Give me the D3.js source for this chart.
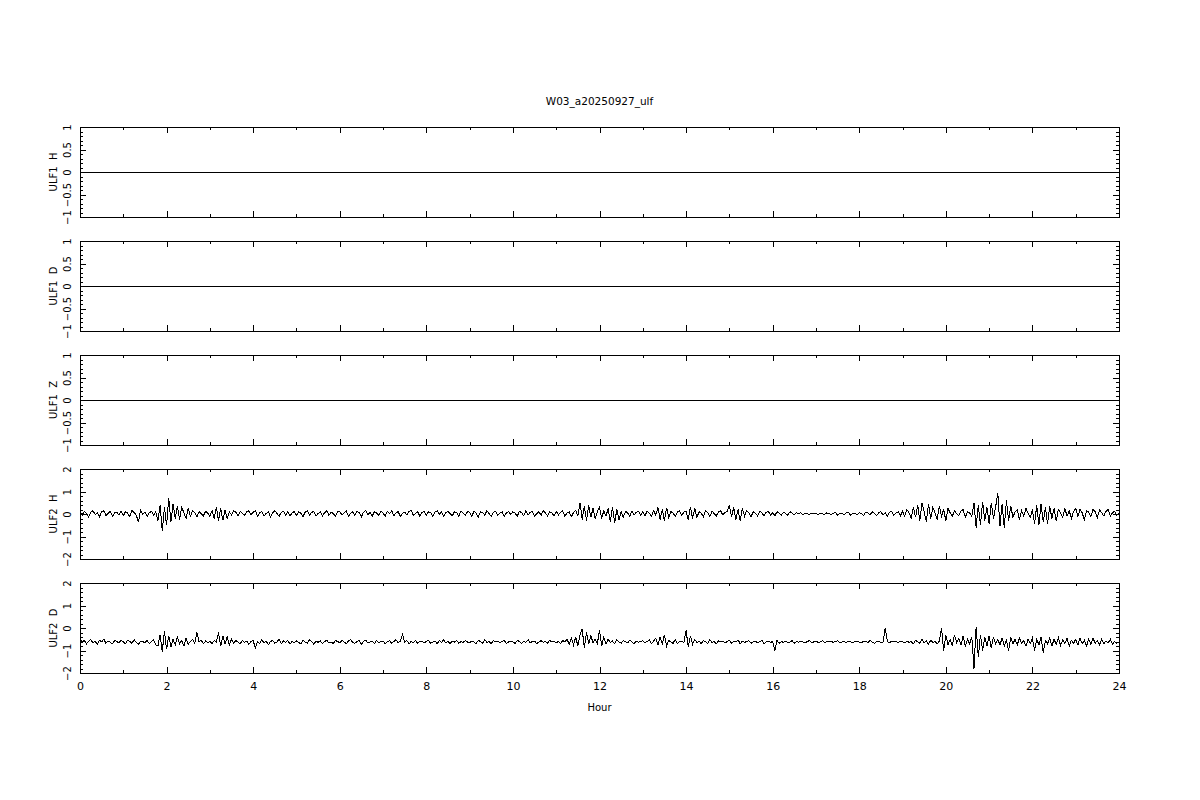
<!DOCTYPE html>
<html>
<head>
<meta charset="utf-8">
<script src="https://cdn.jsdelivr.net/npm/d3@7"></script>
<style>
  body { margin: 0; background: #fff; }
  svg { display: block; }
  text { font-family: "DejaVu Sans", sans-serif; fill: #000; }
</style>
</head>
<body>
<svg width="1200" height="800"></svg>
<script>
// ---- data ----
var title = "W03_a20250927_ulf";
var xLabel = "Hour";
var panelNames = ["ULF1 H", "ULF1 D", "ULF1 Z", "ULF2 H", "ULF2 D"];
var xTickLabels = [0, 2, 4, 6, 8, 10, 12, 14, 16, 18, 20, 22, 24];
var yTicksSmall = [-1, -0.5, 0, 0.5, 1];
var yTicksLarge = [-2, -1, 0, 1, 2];

// ULF1 channels are flat at zero all day
var ulf1Hours = [0, 24];
var ulf1H = [0, 0];
var ulf1D = [0, 0];
var ulf1Z = [0, 0];

// ULF2 channels, one sample every 3 minutes (20 per hour)
var sampleMinutes = 3;
var ulf2H = [
  0.1,-0.05,0.12,0.02,-0.14,0.08,0.15,-0.02,0.05,-0.12,0.1,0.14,-0.06,0.03,0.12,-0.1,0.05,0.08,-0.04,0.12,
  -0.08,0.1,0.04,-0.12,0.15,0.06,-0.05,-0.35,0.18,-0.02,0.08,-0.1,0.05,0.12,-0.06,0.1,-0.3,0.4,-0.75,0.3,
  -0.5,0.7,-0.35,0.45,-0.2,0.35,-0.25,0.3,0.05,-0.2,0.25,-0.1,0.15,0.05,-0.12,0.1,0.02,-0.08,0.12,0.04,
  -0.1,0.15,-0.2,0.3,-0.3,0.25,-0.28,0.18,-0.2,0.1,-0.05,0.15,0.08,-0.1,0.12,0.02,-0.06,0.1,0.14,-0.04,
  0.08,0.15,-0.1,0.05,0.12,-0.08,0.02,0.1,-0.12,0.06,0.14,0.03,-0.1,0.08,0.12,-0.05,0.1,-0.08,0.04,0.12,
  -0.06,0.1,0.04,-0.12,0.08,0.14,-0.04,0.06,0.12,-0.1,0.02,0.1,-0.08,0.05,0.15,-0.06,0.08,0.02,-0.1,0.1,
  0.12,-0.05,0.06,0.14,-0.1,0.03,0.1,-0.06,0.12,0.05,-0.12,0.08,0.15,-0.02,0.06,-0.1,0.1,0.04,-0.06,0.12,
  0.05,-0.1,0.12,0.02,0.14,-0.08,0.06,0.1,-0.12,0.04,0.08,-0.05,0.12,0.16,-0.06,0.02,0.1,-0.1,0.06,0.12,
  -0.04,0.1,0.06,-0.12,0.08,0.14,-0.02,0.1,-0.1,0.05,0.12,0.02,-0.08,0.1,0.06,-0.12,0.14,0.04,-0.06,0.1,
  0.08,-0.1,0.12,0.04,-0.14,0.1,0.06,-0.05,0.15,0.02,-0.1,0.08,0.12,-0.06,0.04,0.1,-0.12,0.06,0.1,-0.02,
  0.1,0.04,-0.1,0.12,0.06,-0.08,0.14,-0.04,0.08,0.12,-0.1,0.02,0.1,-0.06,0.16,0.04,-0.08,0.1,0.05,-0.1,
  0.12,-0.04,0.08,0.14,-0.1,0.05,0.1,-0.12,0.06,0.15,-0.08,0.5,-0.25,0.35,-0.3,0.4,-0.15,0.25,-0.2,0.1,
  0.3,-0.2,0.15,-0.1,0.25,-0.35,0.3,-0.4,0.2,-0.25,0.1,-0.15,0.12,0.05,-0.1,0.14,-0.05,0.08,0.12,-0.06,
  0.1,-0.08,0.12,0.04,-0.1,0.15,-0.05,0.3,-0.25,0.2,-0.3,0.28,-0.15,0.1,0.05,-0.12,0.1,0.14,-0.06,0.08,
  0.12,-0.25,0.3,-0.2,0.25,-0.15,0.1,0.04,-0.12,0.15,0.06,-0.1,0.12,0.02,-0.08,0.1,0.14,-0.05,0.08,0.1,
  0.4,-0.15,0.3,-0.25,0.2,-0.3,0.25,-0.1,0.15,0.05,-0.12,0.1,0.04,-0.08,0.12,0.06,-0.1,0.08,0.12,-0.04,
  0.06,-0.08,0.1,0.04,-0.05,0.08,0.02,-0.06,0.1,0.04,-0.04,0.06,0.02,0.05,-0.03,0.04,0.02,-0.02,0.03,0.01,
  0.02,-0.03,0.04,0.01,-0.02,0.05,0.02,-0.04,0.03,0.06,-0.05,0.04,0.02,-0.03,0.05,0.08,-0.06,0.04,0.02,-0.04,
  0.06,0.02,-0.06,0.08,0.04,-0.05,0.1,0.02,-0.08,0.06,0.1,-0.04,0.05,-0.1,0.08,0.12,-0.06,0.04,0.1,-0.08,
  0.12,-0.1,0.2,0.05,-0.2,0.3,-0.15,0.4,-0.3,0.5,0.1,-0.35,0.45,-0.2,0.3,0.05,-0.25,0.35,-0.1,0.2,
  -0.3,0.25,0.05,-0.1,0.15,0.02,-0.08,0.12,0.2,-0.15,0.1,0.05,-0.12,0.5,-0.6,0.4,-0.5,0.55,-0.3,0.3,
  -0.45,0.5,-0.2,0.3,0.95,-0.55,0.45,-0.6,0.6,-0.3,0.35,-0.15,0.1,0.2,-0.25,0.15,-0.1,0.25,0.05,-0.15,
  0.2,-0.45,0.4,-0.5,0.45,-0.35,0.3,-0.45,0.35,-0.2,0.25,-0.3,0.2,0.05,-0.15,0.25,-0.1,0.15,-0.2,0.1,
  0.25,-0.12,0.2,0.05,-0.25,0.15,0.08,-0.1,0.2,0.1,-0.15,0.18,0.05,-0.08,0.12,0.2,-0.1,0.06,0.12,-0.05,
  0.05
];
var ulf2D = [
  -0.48,-0.62,-0.55,-0.7,-0.58,-0.52,-0.66,-0.6,-0.72,-0.55,-0.62,-0.5,-0.68,-0.58,-0.64,-0.7,-0.56,-0.6,-0.66,-0.54,
  -0.62,-0.7,-0.55,-0.6,-0.68,-0.52,-0.64,-0.72,-0.58,-0.6,-0.66,-0.55,-0.7,-0.6,-0.52,-0.75,-0.8,-0.3,-1.05,-0.15,
  -0.95,-0.35,-0.85,-0.5,-0.75,-0.4,-0.7,-0.55,-0.8,-0.45,-0.72,-0.6,-0.5,-0.68,-0.2,-0.62,-0.55,-0.7,-0.58,-0.65,
  -0.6,-0.7,-0.55,-0.62,-0.2,-0.8,-0.35,-0.7,-0.4,-0.75,-0.5,-0.68,-0.56,-0.62,-0.7,-0.55,-0.64,-0.58,-0.72,-0.6,
  -0.55,-0.9,-0.6,-0.7,-0.52,-0.66,-0.58,-0.75,-0.6,-0.55,-0.68,-0.62,-0.5,-0.7,-0.58,-0.64,-0.55,-0.72,-0.6,-0.66,
  -0.58,-0.64,-0.7,-0.55,-0.62,-0.68,-0.52,-0.6,-0.72,-0.58,-0.64,-0.56,-0.7,-0.6,-0.54,-0.66,-0.62,-0.7,-0.56,-0.6,
  -0.66,-0.55,-0.62,-0.7,-0.58,-0.52,-0.64,-0.68,-0.6,-0.56,-0.72,-0.6,-0.54,-0.66,-0.62,-0.58,-0.7,-0.55,-0.64,-0.6,
  -0.58,-0.7,-0.62,-0.55,-0.68,-0.6,-0.52,-0.66,-0.58,-0.3,-0.62,-0.56,-0.7,-0.6,-0.64,-0.55,-0.68,-0.6,-0.58,-0.66,
  -0.6,-0.55,-0.68,-0.62,-0.58,-0.7,-0.56,-0.64,-0.52,-0.66,-0.6,-0.7,-0.58,-0.62,-0.55,-0.68,-0.6,-0.64,-0.56,-0.62,
  -0.66,-0.58,-0.62,-0.7,-0.55,-0.6,-0.68,-0.52,-0.64,-0.6,-0.7,-0.56,-0.62,-0.58,-0.66,-0.6,-0.55,-0.7,-0.62,-0.58,
  -0.62,-0.68,-0.55,-0.6,-0.7,-0.58,-0.64,-0.52,-0.66,-0.6,-0.58,-0.7,-0.62,-0.56,-0.64,-0.6,-0.68,-0.55,-0.62,-0.58,
  -0.66,-0.6,-0.7,-0.55,-0.62,-0.5,-0.72,-0.45,-0.75,-0.4,-0.8,-0.3,-0.05,-0.9,-0.2,-0.7,-0.35,-0.65,-0.5,-0.7,
  -0.1,-0.8,-0.4,-0.72,-0.5,-0.65,-0.58,-0.7,-0.52,-0.62,-0.68,-0.56,-0.6,-0.66,-0.55,-0.62,-0.7,-0.58,-0.64,-0.6,
  -0.56,-0.66,-0.6,-0.52,-0.7,-0.58,-0.45,-0.75,-0.4,-0.7,-0.3,-0.8,-0.55,-0.62,-0.68,-0.5,-0.7,-0.6,-0.58,-0.66,
  -0.1,-0.85,-0.35,-0.72,-0.5,-0.65,-0.58,-0.7,-0.55,-0.62,-0.68,-0.52,-0.64,-0.6,-0.7,-0.56,-0.62,-0.58,-0.66,-0.6,
  -0.55,-0.68,-0.6,-0.62,-0.52,-0.7,-0.58,-0.64,-0.6,-0.56,-0.68,-0.62,-0.58,-0.66,-0.6,-0.55,-0.7,-0.62,-0.58,-0.64,
  -0.6,-1.0,-0.55,-0.68,-0.6,-0.64,-0.58,-0.66,-0.62,-0.56,-0.68,-0.6,-0.64,-0.58,-0.62,-0.66,-0.6,-0.56,-0.64,-0.62,
  -0.58,-0.64,-0.62,-0.56,-0.66,-0.6,-0.62,-0.58,-0.64,-0.6,-0.56,-0.66,-0.62,-0.6,-0.64,-0.58,-0.62,-0.66,-0.6,-0.58,
  -0.62,-0.66,-0.58,-0.6,-0.64,-0.56,-0.62,-0.68,-0.6,-0.58,-0.64,-0.62,0.0,-0.6,-0.66,-0.58,-0.62,-0.6,-0.64,-0.58,
  -0.62,-0.66,-0.58,-0.64,-0.6,-0.7,-0.55,-0.62,-0.68,-0.5,-0.66,-0.58,-0.72,-0.55,-0.64,-0.6,-0.7,-0.58,0.0,-1.0,
  -0.3,-0.75,-0.5,-0.8,-0.3,-0.65,-0.45,-0.75,-0.35,-0.8,-0.5,-0.7,-0.4,-1.8,0.05,-1.3,-0.3,-1.0,-0.4,-0.8,
  -0.35,-0.9,-0.4,-0.7,-0.5,-0.75,-0.45,-0.8,-0.55,-1.0,-0.4,-0.7,-0.5,-0.75,-0.45,-0.68,-0.55,-0.8,-0.5,-0.7,
  -0.45,-1.0,-0.5,-0.75,-0.4,-1.1,-0.55,-0.7,-0.45,-0.8,-0.5,-0.72,-0.42,-0.78,-0.52,-0.7,-0.45,-0.8,-0.55,-0.68,
  -0.5,-0.75,-0.45,-0.7,-0.55,-0.8,-0.5,-0.72,-0.45,-0.68,-0.56,-0.75,-0.5,-0.7,-0.58,-0.66,-0.5,-0.72,-0.6,-0.68,
  -0.62
];

// ---- layout ----
var svg = d3.select("svg"),
    left = 80, right = 1119,
    panelTop = 127, panelHeight = 90, panelGap = 114;

var x = d3.scaleLinear().domain([0, 24]).range([left, right]);

var fmt = function(d) { return d < 0 ? "\u2212" + Math.abs(d) : String(d); };

var panels = [
  {name: panelNames[0], hours: ulf1Hours, values: ulf1H, ticks: yTicksSmall, minor: 0.1},
  {name: panelNames[1], hours: ulf1Hours, values: ulf1D, ticks: yTicksSmall, minor: 0.1},
  {name: panelNames[2], hours: ulf1Hours, values: ulf1Z, ticks: yTicksSmall, minor: 0.1},
  {name: panelNames[3], hours: null, values: ulf2H, ticks: yTicksLarge, minor: 0.2},
  {name: panelNames[4], hours: null, values: ulf2D, ticks: yTicksLarge, minor: 0.2}
];

svg.append("text")
    .attr("x", (left + right) / 2)
    .attr("y", 105)
    .attr("text-anchor", "middle")
    .attr("font-size", 10.5)
    .text(title);

panels.forEach(function(p, i) {
  var top = panelTop + i * panelGap,
      bottom = top + panelHeight,
      lo = p.ticks[0], hi = p.ticks[p.ticks.length - 1];

  var y = d3.scaleLinear().domain([lo, hi]).range([bottom, top]);
  var minorTicks = d3.range(lo, hi + p.minor / 2, p.minor).map(function(v) { return +v.toFixed(2); });
  var g = svg.append("g");

  // x ticks on top and bottom, pointing inward
  g.append("g")
      .attr("transform", "translate(0," + bottom + ")")
      .call(d3.axisBottom(x).tickValues(d3.range(0, 25, 1)).tickSize(-3).tickFormat(""));
  g.append("g")
      .attr("class", "xlab")
      .attr("transform", "translate(0," + bottom + ")")
      .call(d3.axisBottom(x).tickValues(xTickLabels).tickSize(-6)
        .tickFormat(i == panels.length - 1 ? function(d) { return d; } : ""));
  g.append("g")
      .attr("transform", "translate(0," + top + ")")
      .call(d3.axisTop(x).tickValues(d3.range(0, 25, 1)).tickSize(-3).tickFormat(""));
  g.append("g")
      .attr("transform", "translate(0," + top + ")")
      .call(d3.axisTop(x).tickValues(xTickLabels).tickSize(-6).tickFormat(""));

  // y ticks on left and right, pointing inward
  g.append("g")
      .attr("transform", "translate(" + left + ",0)")
      .call(d3.axisLeft(y).tickValues(minorTicks).tickSize(-3).tickFormat(""));
  var yl = g.append("g")
      .attr("transform", "translate(" + left + ",0)")
      .call(d3.axisLeft(y).tickValues(p.ticks).tickSize(-6).tickFormat(fmt));
  g.append("g")
      .attr("transform", "translate(" + right + ",0)")
      .call(d3.axisRight(y).tickValues(minorTicks).tickSize(-3).tickFormat(""));
  g.append("g")
      .attr("transform", "translate(" + right + ",0)")
      .call(d3.axisRight(y).tickValues(p.ticks).tickSize(-6).tickFormat(""));

  // rotated y tick labels like the original plot
  yl.selectAll("text")
      .attr("x", 0)
      .attr("y", -9)
      .attr("dy", 0)
      .attr("text-anchor", "middle")
      .attr("transform", "rotate(-90)")
      .attr("font-size", 10);

  g.selectAll(".xlab text").attr("y", 9).attr("font-size", 11);
  g.selectAll(".domain").remove();
  g.selectAll("line").attr("stroke", "#000").attr("shape-rendering", "crispEdges");
  g.selectAll(".tick text").attr("font-family", "DejaVu Sans, sans-serif").attr("fill", "#000");

  // frame
  g.append("rect")
      .attr("x", left).attr("y", top)
      .attr("width", right - left).attr("height", panelHeight)
      .attr("fill", "none").attr("stroke", "#000").attr("stroke-width", 1)
      .attr("shape-rendering", "crispEdges");

  // y axis title
  svg.append("text")
      .attr("transform", "translate(57," + (top + bottom) / 2 + ") rotate(-90)")
      .attr("text-anchor", "middle")
      .attr("font-size", 10)
      .attr("xml:space", "preserve")
      .style("white-space", "pre")
      .text(p.name.replace(" ", "  "));

  // signal
  var pts = p.values.map(function(v, k) {
    var h = p.hours ? p.hours[k] : k * sampleMinutes / 60;
    return [h, v];
  });
  svg.append("path")
      .datum(pts)
      .attr("fill", "none")
      .attr("stroke", "#000")
      .attr("stroke-width", 1)
      .attr("shape-rendering", "crispEdges")
      .attr("d", d3.line()
        .x(function(d) { return x(d[0]); })
        .y(function(d) { return y(d[1]); }));
});

svg.append("text")
    .attr("x", (left + right) / 2)
    .attr("y", 711)
    .attr("text-anchor", "middle")
    .attr("font-size", 10)
    .text(xLabel);
</script>
</body>
</html>
